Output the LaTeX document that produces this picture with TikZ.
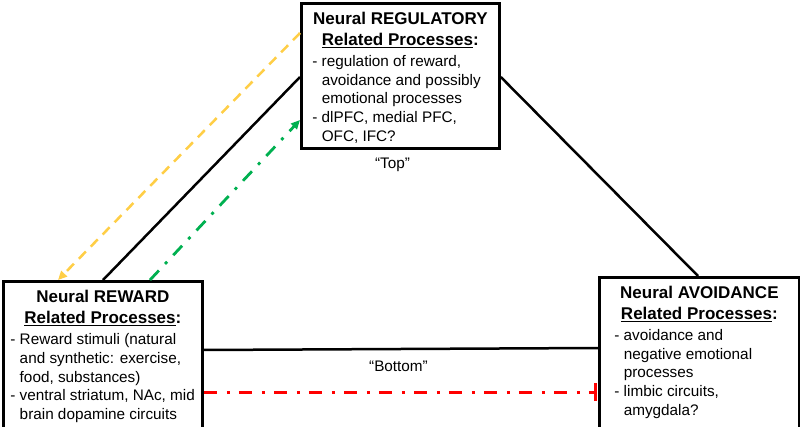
\documentclass[tikz,border=0pt]{standalone}
\usepackage{fontspec}
\setmainfont{Liberation Sans}
\usetikzlibrary{arrows.meta,calc}
\definecolor{ayellow}{RGB}{255,206,70}
\definecolor{agreen}{RGB}{0,176,80}
\definecolor{ared}{RGB}{255,0,0}
\newcommand{\ttlf}{\fontsize{17}{20.5}\selectfont\bfseries}
\newcommand{\bdyf}{\fontsize{15.3}{18.8}\selectfont\mdseries}
\newcommand{\ulin}[1]{\leavevmode\setbox0\hbox{#1}\rlap{\rule[-2.6pt]{\wd0}{1.4pt}}\box0}
\newcommand{\dl}[1]{\mbox{- #1}}
\newcommand{\cnt}[1]{\mbox{\phantom{- }#1}}
\newcommand{\boxcontent}[4]{\parbox[c][#1][t]{#2}{\centering\ttlf\rule{0pt}{21.5pt}#3\\\ulin{Related Processes}:\par\vspace{2.2pt}\raggedright\bdyf #4\par}}
\tikzset{
  procbox/.style={draw, line width=2.8pt, inner sep=0pt, anchor=north west},
  conn/.style={line width=2.5pt},
  lbl/.style={inner sep=0pt, anchor=base, font=\bdyf},
  yarrow/.style={ayellow, line width=2.5pt, dash pattern=on 10pt off 7pt, -{Triangle[length=9pt,width=8pt]}},
  garrow/.style={agreen, line width=2.8pt, dash pattern=on 13pt off 9pt on 3pt off 9pt, -{Triangle[length=9pt,width=8pt]}},
  rarrow/.style={ared, line width=3pt, dash pattern=on 13pt off 10pt on 3pt off 9pt, -{Bar[width=18pt,line width=3pt]}}
}
\begin{document}
\begin{tikzpicture}[x=1pt,y=-1pt]
\useasboundingbox (0,0) rectangle (800,427);
\node[procbox, minimum width=198pt, minimum height=145pt] (reg) at (300,2)
  {\boxcontent{145pt}{176pt}{Neural REGULATORY}{\dl{regulation of reward,}\\\cnt{avoidance and possibly}\\\cnt{emotional processes}\\\dl{dlPFC, medial PFC,}\\\cnt{OFC, IFC?}}};
\node[procbox, minimum width=199pt, minimum height=150pt] (rew) at (2,280)
  {\boxcontent{150pt}{185pt}{Neural REWARD}{\dl{Reward stimuli (natural}\\\cnt{and synthetic: exercise,}\\\cnt{food, substances)}\\\dl{ventral striatum, NAc, mid}\\\cnt{brain dopamine circuits}}};
\node[procbox, minimum width=200pt, minimum height=155pt] (avo) at (598,276)
  {\boxcontent{155pt}{170pt}{Neural AVOIDANCE}{\dl{avoidance and}\\\cnt{negative emotional}\\\cnt{processes}\\\dl{limbic circuits,}\\\cnt{amygdala?}}};
\node[lbl] (top) at (392.5,169) {“Top”};
\node[lbl] (bottom) at (398.5,371) {“Bottom”};
\draw[conn] ($(reg.north west)+(0,75)$) -- ($(rew.north west)+(101,0)$);
\draw[conn] ($(reg.north east)+(0,75)$) -- ($(avo.north west)+(100,0)$);
\draw[conn] ($(rew.north east)+(0,70)$) -- ($(avo.north west)+(0,72)$);
\draw[yarrow] ($(reg.north west)+(0,31)$) -- ($(rew.north west)+(56,0)$);
\draw[garrow] ($(rew.north west)+(148,0)$) -- ($(reg.north west)+(0,118)$);
\draw[rarrow] ($(rew.north east)+(0,112)$) -- ($(avo.north west)+(-1,116)$);
\end{tikzpicture}
\end{document}
